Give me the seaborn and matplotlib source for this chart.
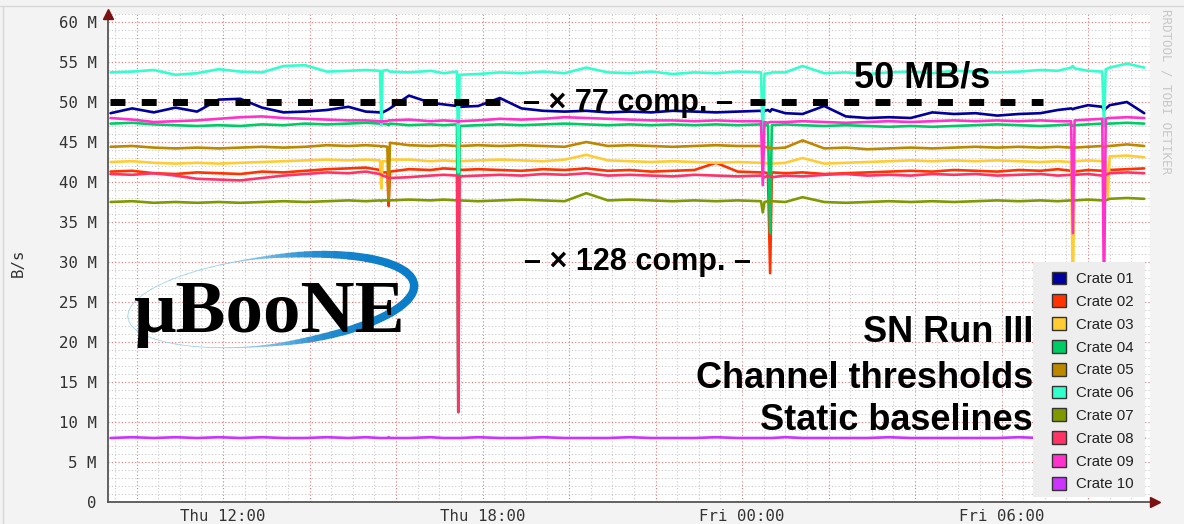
import numpy as np
import pandas as pd
import matplotlib
matplotlib.use("Agg")
import matplotlib.pyplot as plt
import seaborn as sns
from matplotlib.patches import Patch, Rectangle, Arc
from matplotlib.ticker import FixedLocator, MultipleLocator, FuncFormatter
from matplotlib.colors import to_rgb

# ---------------- data (hours since Thu 00:00, rates in MB/s) ----------------
hours = [9.4, 9.9, 10.4, 10.9, 11.4, 11.9, 12.4, 12.9,
         13.4, 13.9, 14.4, 14.9, 15.3, 15.63, 15.66, 15.69,
         15.80, 15.83, 15.86, 16.3, 16.8, 17.1, 17.41, 17.44,
         17.47, 17.9, 18.4, 18.9, 19.4, 19.9, 20.4, 20.9,
         21.4, 21.9, 22.4, 22.9, 23.4, 23.9, 24.44, 24.48,
         24.52, 24.60, 24.65, 24.69, 25.0, 25.4, 25.9, 26.4,
         26.9, 27.4, 27.9, 28.4, 28.9, 29.4, 29.9, 30.4,
         30.9, 31.3, 31.61, 31.65, 31.69, 32.0, 32.33, 32.37,
         32.41, 32.46, 32.50, 32.9, 33.3]

crate_01 = [48.6, 49.2, 48.7, 49.3, 48.8, 50.3, 50.4, 49.3,
            48.7, 48.8, 49.0, 49.4, 48.8, 48.7, 48.5, 48.7,
            49.0, 49.1, 49.2, 50.8, 49.9, 49.7, 49.5, 49.3,
            49.4, 49.5, 50.5, 49.2, 48.9, 48.8, 48.9, 48.7,
            48.8, 48.7, 48.9, 48.8, 48.7, 48.8, 48.9, 48.6,
            48.9, 49.0, 48.8, 49.1, 48.6, 48.5, 49.5, 48.2,
            48.0, 48.1, 48.0, 48.7, 48.5, 48.6, 48.3, 48.5,
            48.6, 49.0, 49.2, 49.1, 49.2, 49.6, 49.4, 48.9,
            49.2, 49.4, 49.6, 50.0, 48.6]
crate_02 = [41.3, 41.4, 41.1, 41.0, 41.2, 41.1, 41.0, 41.3,
            41.2, 41.4, 41.6, 41.7, 41.8, 41.5, 41.3, 41.2,
            41.2, 37.0, 41.3, 41.6, 41.5, 41.7, 41.6, 41.4,
            41.5, 41.6, 41.5, 41.4, 41.6, 41.5, 41.7, 41.4,
            41.5, 41.3, 41.4, 41.5, 42.4, 41.3, 41.2, 41.1,
            41.2, 41.1, 28.6, 41.2, 41.1, 41.2, 41.0, 41.1,
            41.2, 41.3, 41.4, 41.3, 41.5, 41.4, 41.3, 41.5,
            41.4, 41.6, 41.4, 41.2, 41.3, 41.5, 41.4, 41.2,
            41.3, 41.4, 41.5, 41.6, 41.7]
crate_03 = [42.5, 42.6, 42.4, 42.3, 42.4, 42.3, 42.4, 42.5,
            42.6, 42.7, 42.8, 42.7, 42.8, 42.7, 39.2, 42.6,
            42.6, 42.7, 42.8, 42.8, 42.6, 42.7, 42.6, 42.5,
            42.6, 42.7, 42.8, 42.7, 42.6, 42.8, 43.4, 42.7,
            42.6, 42.5, 42.6, 42.5, 42.4, 42.5, 42.4, 42.3,
            42.4, 42.3, 42.4, 42.3, 42.4, 43.0, 42.3, 42.4,
            42.5, 42.6, 42.7, 42.6, 42.7, 42.6, 42.7, 42.6,
            42.5, 42.6, 42.5, 26.0, 42.6, 42.7, 42.6, 42.5,
            42.6, 38.0, 43.2, 43.3, 43.1]
crate_04 = [47.3, 47.4, 47.2, 47.1, 47.0, 47.1, 47.0, 47.2,
            47.1, 47.3, 47.2, 47.3, 47.4, 47.3, 47.2, 47.3,
            47.2, 47.1, 47.3, 47.1, 47.2, 47.1, 47.2, 11.2,
            47.0, 47.1, 47.2, 47.1, 47.2, 47.3, 47.2, 47.1,
            47.2, 47.1, 47.2, 47.1, 47.2, 47.1, 47.2, 47.0,
            47.1, 47.1, 33.6, 47.1, 47.2, 47.1, 47.0, 47.1,
            47.0, 46.9, 47.0, 46.9, 47.0, 47.1, 47.2, 47.1,
            47.0, 47.1, 47.2, 47.0, 47.1, 47.2, 47.3, 47.0,
            47.2, 47.3, 47.3, 47.4, 47.3]
crate_05 = [44.4, 44.5, 44.3, 44.2, 44.3, 44.2, 44.3, 44.4,
            44.3, 44.4, 44.6, 44.5, 44.6, 44.5, 44.4, 44.5,
            44.4, 37.7, 44.9, 44.6, 44.5, 44.6, 44.5, 44.4,
            44.5, 44.6, 44.5, 44.6, 44.5, 44.4, 45.0, 44.5,
            44.6, 44.5, 44.4, 44.5, 44.6, 44.5, 44.5, 44.4,
            44.4, 44.3, 44.3, 44.2, 44.3, 45.2, 44.2, 44.3,
            44.1, 44.2, 44.3, 44.2, 44.3, 44.4, 44.3, 44.4,
            44.3, 44.4, 44.3, 44.2, 44.3, 44.4, 44.5, 44.3,
            44.4, 44.5, 44.5, 44.7, 44.5]
crate_06 = [53.7, 53.8, 54.0, 53.4, 53.6, 54.1, 53.8, 53.7,
            54.5, 54.6, 53.8, 53.9, 54.0, 53.9, 47.1, 53.9,
            54.0, 53.9, 53.8, 53.7, 53.9, 53.6, 53.8, 41.2,
            53.4, 53.5, 53.7, 53.6, 53.8, 53.6, 54.3, 53.7,
            53.6, 53.8, 53.5, 53.7, 53.6, 53.8, 53.7, 45.0,
            53.5, 53.6, 53.6, 53.7, 53.7, 54.5, 53.6, 53.7,
            53.5, 53.7, 53.8, 53.6, 53.9, 53.8, 53.7, 53.8,
            54.0, 53.9, 54.3, 54.5, 54.2, 53.9, 53.8, 47.0,
            54.1, 54.2, 54.3, 54.8, 54.3]
crate_07 = [37.5, 37.6, 37.4, 37.5, 37.4, 37.5, 37.4, 37.5,
            37.6, 37.5, 37.6, 37.7, 37.6, 37.7, 37.6, 37.7,
            37.7, 37.8, 37.7, 37.8, 37.7, 37.8, 37.7, 37.6,
            37.7, 37.6, 37.7, 37.8, 37.7, 37.6, 38.6, 37.7,
            37.8, 37.7, 37.6, 37.7, 37.6, 37.7, 37.6, 36.2,
            37.5, 37.6, 37.5, 37.6, 37.5, 38.1, 37.5, 37.4,
            37.5, 37.6, 37.5, 37.6, 37.5, 37.6, 37.7, 37.6,
            37.7, 37.6, 37.7, 37.6, 37.7, 37.8, 37.7, 37.6,
            37.7, 37.8, 37.9, 38.0, 37.9]
crate_08 = [41.0, 40.9, 41.1, 40.8, 40.4, 40.3, 40.2, 40.5,
            40.8, 41.0, 41.2, 41.1, 41.3, 41.0, 40.9, 40.8,
            40.6, 40.5, 40.5, 40.6, 40.8, 40.9, 40.8, 11.3,
            40.7, 40.8, 40.9, 40.8, 41.0, 40.9, 41.1, 40.8,
            40.9, 40.8, 40.7, 40.9, 40.8, 40.7, 40.8, 40.7,
            40.6, 40.8, 40.7, 40.6, 40.8, 40.7, 40.9, 41.0,
            40.8, 40.9, 40.8, 41.0, 40.9, 41.0, 40.8, 40.9,
            41.0, 40.8, 40.9, 40.8, 40.9, 41.0, 40.8, 40.7,
            40.9, 41.0, 41.1, 41.2, 41.1]
crate_09 = [48.0, 47.8, 47.5, 47.6, 47.7, 47.9, 48.1, 48.2,
            48.0, 47.9, 47.8, 47.7, 47.7, 47.6, 47.5, 47.6,
            47.6, 47.7, 47.7, 47.8, 47.6, 47.7, 47.6, 47.5,
            47.6, 47.7, 47.9, 47.8, 47.9, 48.1, 48.0, 47.9,
            47.8, 47.7, 47.7, 47.6, 47.7, 47.6, 47.6, 39.6,
            47.5, 47.4, 47.5, 47.5, 47.5, 47.6, 47.5, 47.4,
            47.5, 47.6, 47.5, 47.6, 47.7, 47.6, 47.7, 47.6,
            47.7, 47.6, 47.6, 33.6, 47.7, 47.8, 47.9, 25.0,
            47.9, 48.0, 48.0, 48.1, 48.0]
crate_10 = [8.0, 8.1, 8.0, 8.1, 8.0, 8.1, 8.0, 8.1,
            8.0, 8.0, 8.1, 8.0, 8.1, 8.0, 8.0, 8.0,
            8.0, 8.1, 8.0, 8.0, 8.1, 8.0, 8.0, 8.0,
            8.0, 8.1, 8.0, 8.0, 8.1, 8.0, 8.0, 8.0,
            8.1, 8.0, 8.0, 8.0, 8.1, 8.0, 8.0, 8.0,
            8.0, 8.0, 8.0, 8.0, 8.1, 8.0, 8.0, 8.0,
            8.0, 8.1, 8.0, 8.0, 8.0, 8.0, 8.0, 8.1,
            8.0, 8.0, 8.0, 8.0, 8.0, 8.0, 8.0, 8.0,
            8.0, 8.0, 8.0, 8.0, 8.0]

crate_names = ["Crate 01", "Crate 02", "Crate 03", "Crate 04", "Crate 05",
               "Crate 06", "Crate 07", "Crate 08", "Crate 09", "Crate 10"]
crate_colors = ["#00009c", "#ff3300", "#ffcc33", "#00cc66", "#bb8800",
                "#33ffcc", "#809900", "#ff3366", "#ff33cc", "#cc33ff"]
series = [crate_01, crate_02, crate_03, crate_04, crate_05,
          crate_06, crate_07, crate_08, crate_09, crate_10]

x_tick_hours = [12, 18, 24, 30]
x_tick_labels = ["Thu 12:00", "Thu 18:00", "Fri 00:00", "Fri 06:00"]
y_ticks = [0, 5, 10, 15, 20, 25, 30, 35, 40, 45, 50, 55, 60]
y_tick_labels = ["0", "5 M", "10 M", "15 M", "20 M", "25 M", "30 M",
                 "35 M", "40 M", "45 M", "50 M", "55 M", "60 M"]

threshold = 50.0
threshold_segments = [(9.387, 18.55), (24.185, 30.96)]

for s in series:
    assert len(s) == len(hours)

df = pd.concat([pd.DataFrame({"hours": hours, "rate": s, "crate": n})
                for s, n in zip(series, crate_names)], ignore_index=True)

# ---------------- figure ----------------
W, H, DPI = 1184, 524, 100
sns.set_theme(style="white")
plt.rcParams["font.family"] = ["DejaVu Sans Mono", "DejaVu Sans"]

fig = plt.figure(figsize=(W / DPI, H / DPI), dpi=DPI, facecolor="#f3f3f3")
fig.add_artist(plt.Line2D([0, 1], [1 - 6 / H, 1 - 6 / H], transform=fig.transFigure,
                          color="#d8d8d8", lw=1))
fig.add_artist(plt.Line2D([3 / W, 3 / W], [0, 1 - 6 / H], transform=fig.transFigure,
                          color="#d8d8d8", lw=1))

AX_L, AX_R, AX_T, AX_B = 108, 1150, 14, 502
ax = fig.add_axes([AX_L / W, 1 - AX_B / H, (AX_R - AX_L) / W, (AX_B - AX_T) / H])
ax.set_facecolor("white")


def hour_at(px):
    return 12 + (px - 223) / 43.25


def ax_x(px):
    return (px - AX_L) / (AX_R - AX_L)


def ax_y(py):
    return (AX_B - py) / (AX_B - AX_T)


sns.lineplot(data=df, x="hours", y="rate", hue="crate", hue_order=crate_names,
             palette=dict(zip(crate_names, crate_colors)), estimator=None,
             sort=False, legend=False, linewidth=1.9, ax=ax)

for x0, x1 in threshold_segments:
    ax.plot([x0, x1], [threshold, threshold], color="black", lw=5,
            dashes=(2.15, 2.35), dash_capstyle="butt", zorder=3)

ax.set_xlim(hour_at(AX_L), hour_at(AX_R))
ax.set_ylim(0, 61)

ax.xaxis.set_major_locator(FixedLocator(list(range(10, 34, 2))))
ax.xaxis.set_minor_locator(MultipleLocator(0.5))
xl = dict(zip(x_tick_hours, x_tick_labels))
ax.xaxis.set_major_formatter(FuncFormatter(lambda v, p: xl.get(int(round(v)), "")))
ax.yaxis.set_major_locator(FixedLocator(y_ticks))
ax.yaxis.set_minor_locator(MultipleLocator(1))
yl = dict(zip(y_ticks, y_tick_labels))
ax.yaxis.set_major_formatter(FuncFormatter(lambda v, p: yl.get(int(round(v)), "")))

ax.grid(which="major", color="#f07070", linestyle=(0, (1, 2)), linewidth=0.8)
ax.grid(which="minor", color="#c8c8c8", linestyle=(0, (1, 2)), linewidth=0.8)
ax.set_axisbelow(True)

ax.tick_params(axis="both", which="major", direction="in", length=3, width=1,
               color="#d04040", labelsize=11.3, labelcolor="#333333")
ax.tick_params(axis="y", which="major", pad=8)
ax.tick_params(axis="x", which="major", pad=5)
ax.tick_params(which="minor", direction="in", length=2, width=0.8, color="#999999")
ax.set_xlabel("")
ax.set_ylabel("B/s", fontsize=11.3, color="#333333")
ax.yaxis.set_label_coords(ax_x(26), 0.49)

for side in ["top", "right"]:
    ax.spines[side].set_visible(False)
for side in ["left", "bottom"]:
    ax.spines[side].set_color("#555555")
    ax.spines[side].set_linewidth(1.3)
ax.plot([0], [1.0], marker="^", ms=7, color="#7a1010", transform=ax.transAxes,
        clip_on=False, zorder=6)
ax.plot([1.005], [0], marker=">", ms=7, color="#7a1010", transform=ax.transAxes,
        clip_on=False, zorder=6)

# legend with opaque background block
ax.add_patch(Rectangle((ax_x(1033), ax_y(497)), 112 / (AX_R - AX_L), 235 / (AX_B - AX_T),
                       transform=ax.transAxes, facecolor="#eeeeee", edgecolor="none",
                       zorder=4, clip_on=False))
handles = [Patch(facecolor=c, edgecolor="#333333", linewidth=1.0) for c in crate_colors]
leg = ax.legend(handles, crate_names, loc="upper left",
                bbox_to_anchor=(ax_x(1044), ax_y(264)), frameon=False,
                prop={"family": "Liberation Sans", "size": 10.8},
                handlelength=0.95, handleheight=0.95, handletextpad=0.65,
                labelspacing=0.545, borderpad=0.5, borderaxespad=0)
for t in leg.get_texts():
    t.set_color("#222222")
leg.set_zorder(5)

# ---------------- overlay (annotations, logo) ----------------
ov = fig.add_axes([0, 0, 1, 1], zorder=5)
ov.set_xlim(0, W)
ov.set_ylim(H, 0)
ov.axis("off")
ov.patch.set_alpha(0)

bold = dict(family="Liberation Sans", weight="bold", color="black")
ov.text(922, 78, "50 MB/s", ha="center", va="center", fontsize=26, **bold)
ov.text(628, 103, "– × 77 comp. –", ha="center", va="center", fontsize=22, **bold)
ov.text(637, 262, "– × 128 comp. –", ha="center", va="center", fontsize=22, **bold)
ov.text(1033, 333, "SN Run III", ha="right", va="center", fontsize=26, **bold)
ov.text(1033, 378, "Channel thresholds", ha="right", va="center", fontsize=26, **bold)
ov.text(1033, 420, "Static baselines", ha="right", va="center", fontsize=26, **bold)

ov.text(1166, 9, "RRDTOOL / TOBI OETIKER", rotation=270, ha="center", va="top",
        fontsize=9, family="DejaVu Sans Mono", color="#c8c8c8")

# μBooNE logo: swoosh ellipse + serif text
thin_c, thick_c = np.array(to_rgb("#8fcdf0")), np.array(to_rgb("#0a7cc8"))
for th in range(-180, 180, 6):
    mid = np.deg2rad(th + 3)
    k = ((1 + np.cos(mid)) / 2) ** 2
    ov.add_patch(Arc((271, 301), 288, 88, angle=-6.6, theta1=th, theta2=th + 6.5,
                     lw=0.5 + 5.5 * k, color=tuple(thin_c + (thick_c - thin_c) * k),
                     capstyle="butt"))
ov.text(269, 332, "μBooNE", ha="center", va="baseline", fontsize=54,
        family="Liberation Serif", weight="bold", color="black")

fig.savefig("out.png", dpi=DPI, facecolor=fig.get_facecolor())
